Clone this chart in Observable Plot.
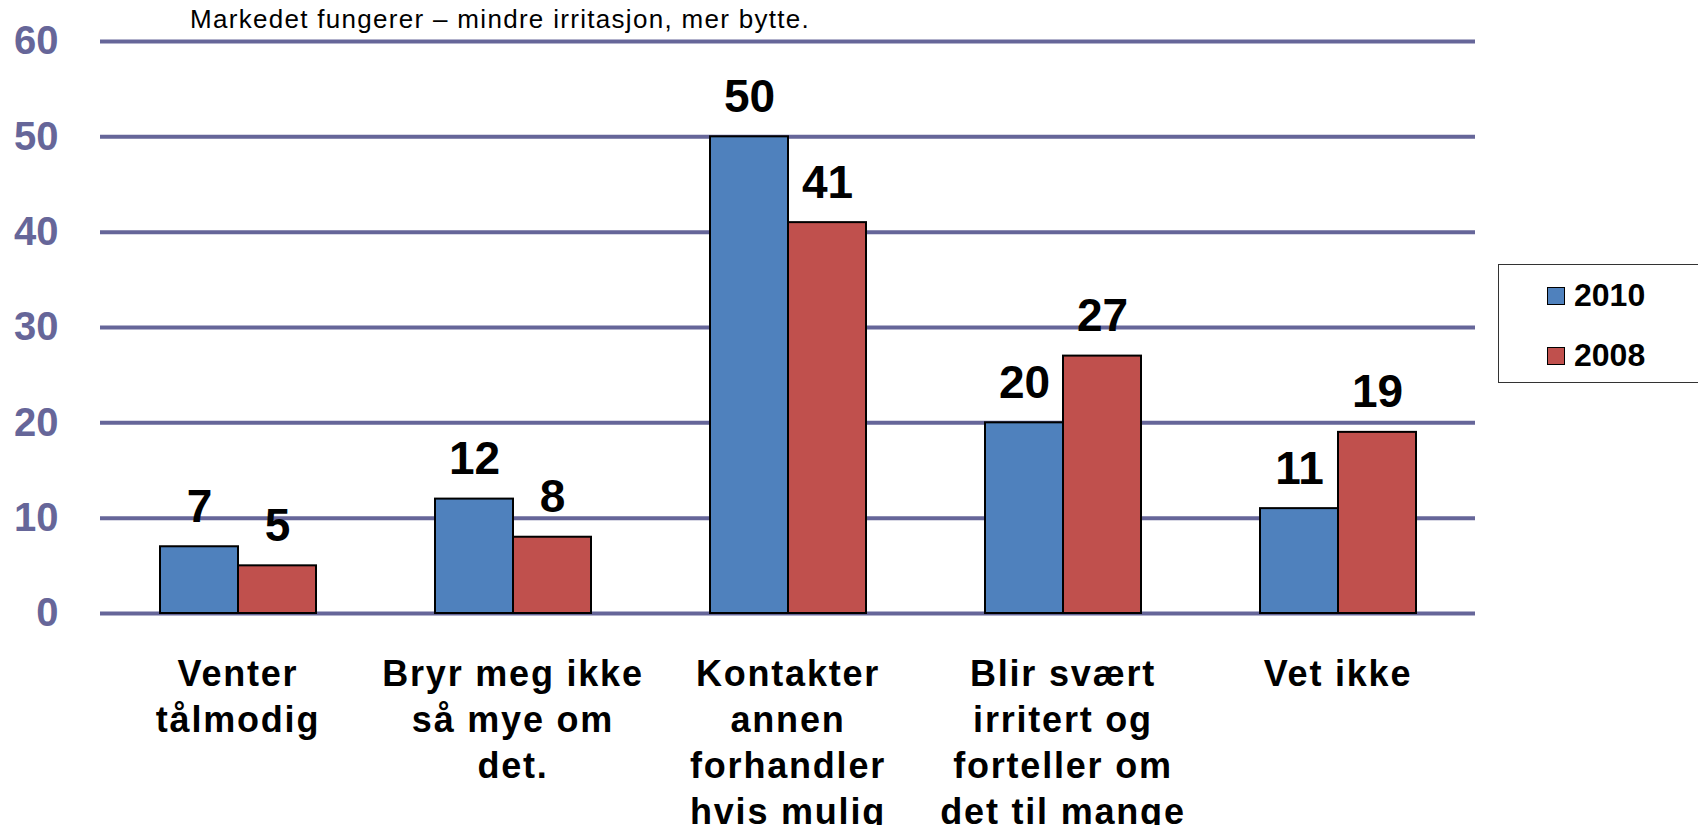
<!DOCTYPE html>
<html>
<head>
<meta charset="utf-8">
<script src="https://cdn.jsdelivr.net/npm/d3@7"></script>
<script src="https://cdn.jsdelivr.net/npm/@observablehq/plot@0.6"></script>
<style>
  html, body { margin: 0; padding: 0; background: #fff; }
  #wrap { position: relative; width: 1698px; height: 825px; overflow: hidden; font-family: "Liberation Sans", Arial, sans-serif; }
  #title { position: absolute; left: 190px; top: 4px; font-size: 26px; color: #000; white-space: nowrap; letter-spacing: 1.3px; }
  #legend { position: absolute; left: 1498px; top: 264px; width: 220px; height: 119px; border: 1.5px solid #333; box-sizing: border-box; background: #fff; }
  .item { position: absolute; left: 48px; display: flex; align-items: center; font-weight: bold; font-size: 32px; }
  .sw { width: 16px; height: 16px; border: 1.5px solid #000; margin-right: 9px; }
  g[aria-label="fx-axis tick label"] text { letter-spacing: 1.8px; }
</style>
</head>
<body>
<div id="wrap">
  <div id="chart"></div>
  <div id="title"></div>
  <div id="legend"></div>
</div>
<script>
const titleText = "Markedet fungerer – mindre irritasjon, mer bytte.";
const categories = ["Venter tålmodig", "Bryr meg ikke så mye om det.", "Kontakter annen forhandler hvis mulig", "Blir svært irritert og forteller om det til mange", "Vet ikke"];
const tickLabels = ["Venter\ntålmodig", "Bryr meg ikke\nså mye om\ndet.", "Kontakter\nannen\nforhandler\nhvis mulig", "Blir svært\nirritert og\nforteller om\ndet til mange", "Vet ikke"];
const series = ["2010", "2008"];
const values2010 = [7, 12, 50, 20, 11];
const values2008 = [5, 8, 41, 27, 19];
const colors = ["#4F81BD", "#C0504D"];
const yTicks = [0, 10, 20, 30, 40, 50, 60];

const data = [];
categories.forEach((c, i) => {
  data.push({cat: c, series: series[0], value: values2010[i]});
  data.push({cat: c, series: series[1], value: values2008[i]});
});

const chart = Plot.plot({
  width: 1698,
  height: 825,
  marginLeft: 100,
  marginRight: 223,
  marginTop: 41,
  marginBottom: 212,
  style: {fontFamily: "'Liberation Sans', Arial, sans-serif", background: "white", overflow: "visible"},
  fx: {domain: categories, padding: 0},
  x: {domain: series, paddingInner: 0, paddingOuter: 0.75, axis: null},
  y: {domain: [0, 60]},
  color: {domain: series, range: colors},
  marks: [
    Plot.gridY(yTicks, {stroke: "#666699", strokeWidth: 4, strokeOpacity: 1}),
    Plot.axisY(yTicks, {tickSize: 0, tickPadding: 42, fontSize: 40, fontWeight: "bold", fill: "#666699", label: null}),
    Plot.axisFx({anchor: "bottom", tickSize: 0, tickPadding: 40, fontSize: 36, fontWeight: "bold", fill: "#000", lineHeight: 1.28, lineAnchor: "top", label: null,
      tickFormat: d => tickLabels[categories.indexOf(d)]}),
    Plot.barY(data, {fx: "cat", x: "series", y: "value", fill: "series", stroke: "#000", strokeWidth: 2}),
    Plot.text(data, {fx: "cat", x: "series", y: "value", text: d => String(d.value), lineAnchor: "bottom", dy: -25, fontSize: 46, fontWeight: "bold", fill: "#000"})
  ]
});
document.getElementById("chart").appendChild(chart);
document.getElementById("title").textContent = titleText;

const legend = document.getElementById("legend");
series.forEach((s, i) => {
  const item = document.createElement("div");
  item.className = "item";
  item.style.top = (i === 0 ? 12 : 72) + "px";
  const sw = document.createElement("div");
  sw.className = "sw";
  sw.style.background = colors[i];
  const t = document.createElement("span");
  t.textContent = s;
  item.appendChild(sw);
  item.appendChild(t);
  legend.appendChild(item);
});
</script>
</body>
</html>
